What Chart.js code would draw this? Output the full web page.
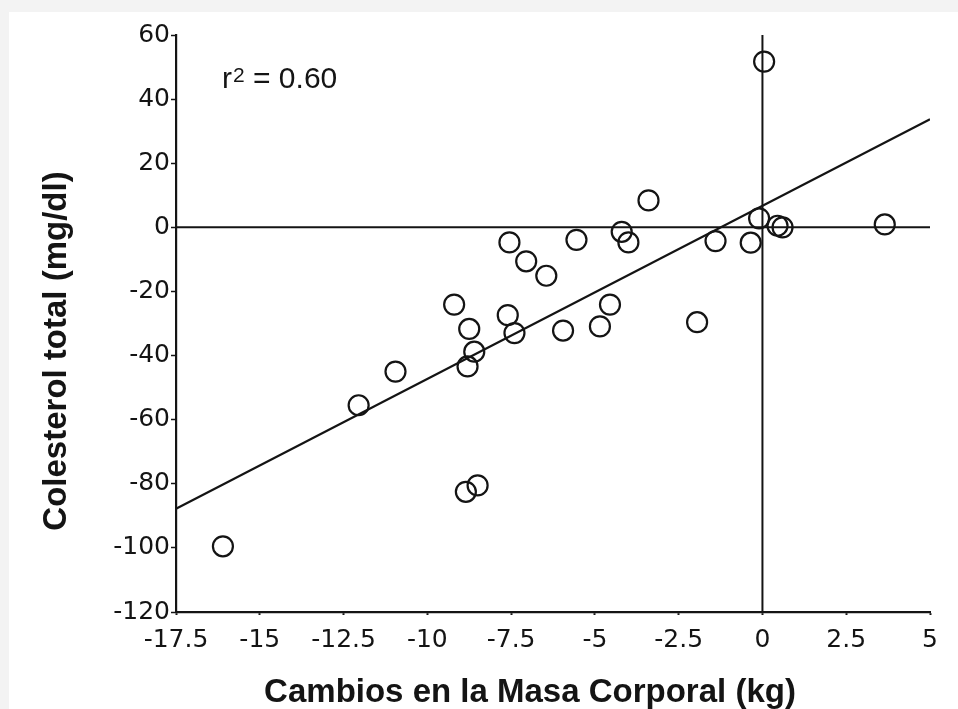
<!DOCTYPE html>
<html>
<head>
<meta charset="utf-8">
<script src="https://cdn.jsdelivr.net/npm/chart.js@4.4.1/dist/chart.umd.min.js"></script>
<style>
  html, body { margin: 0; padding: 0; background: #f3f3f3; }
  canvas { display: block; }
</style>
</head>
<body>
<canvas id="chol" width="958" height="709"></canvas>
<script>
// Cambios en la masa corporal (kg) vs colesterol total (mg/dl)
const massChange = [-16.1, -12.05, -10.95, -9.2, -8.75, -8.6, -8.8, -8.85, -8.5,
  -7.55, -7.05, -6.45, -7.6, -7.4, -5.95, -5.55, -4.85, -4.55, -4.2, -4.0, -3.4,
  -1.95, -1.4, -0.35, -0.1, 0.45, 0.6, 3.65, 0.05];
const cholChange = [-99.5, -55.5, -45, -24.1, -31.7, -38.8, -43.4, -82.5, -80.5,
  -4.7, -10.6, -15.1, -27.4, -33, -32.2, -3.9, -30.9, -24.1, -1.4, -4.7, 8.4,
  -29.6, -4.3, -4.8, 2.8, 0.5, 0, 0.9, 51.7];

// recta de regresion (extremos)
const fitX = [-17.5, 5];
const fitY = [-87.8, 33.7];

const xTickValues = [-17.5, -15, -12.5, -10, -7.5, -5, -2.5, 0, 2.5, 5];
const xTickLabels = ['-17.5', '-15', '-12.5', '-10', '-7.5', '-5', '-2.5', '0', '2.5', '5'];
const yTickValues = [-120, -100, -80, -60, -40, -20, 0, 20, 40, 60];
const yTickLabels = ['-120', '-100', '-80', '-60', '-40', '-20', '0', '20', '40', '60'];

const xTitle = 'Cambios en la Masa Corporal (kg)';
const yTitle = 'Colesterol total (mg/dl)';
const rLabel = ['r', '2', ' = 0.60'];

const ink = '#141414';

const points = massChange.map((x, i) => ({ x: x, y: cholChange[i] }));
const fitLine = fitX.map((x, i) => ({ x: x, y: fitY[i] }));
const zeroH = [{ x: xTickValues[0], y: 0 }, { x: xTickValues[xTickValues.length - 1], y: 0 }];
const zeroV = [{ x: 0, y: yTickValues[yTickValues.length - 1] }, { x: 0, y: yTickValues[0] }];

// fondo gris con panel blanco + textos
const paperPlugin = {
  id: 'paper',
  beforeDraw(chart) {
    const c = chart.ctx;
    c.save();
    c.fillStyle = '#f3f3f3';
    c.fillRect(0, 0, chart.width, chart.height);
    c.fillStyle = '#ffffff';
    c.fillRect(9, 12, chart.width - 9, chart.height - 12);
    c.restore();
  },
  afterDraw(chart) {
    const c = chart.ctx;
    c.save();
    c.fillStyle = ink;
    c.textBaseline = 'alphabetic';

    c.font = 'bold 33px "Liberation Sans", Arial, sans-serif';
    c.textAlign = 'center';
    c.fillText(xTitle, 530, 702);

    c.translate(66, 351);
    c.rotate(-Math.PI / 2);
    c.fillText(yTitle, 0, 0);
    c.restore();

    c.save();
    c.fillStyle = ink;
    c.textAlign = 'left';
    c.font = '30px "Liberation Sans", Arial, sans-serif';
    let x = 222;
    c.fillText(rLabel[0], x, 88);
    x += c.measureText(rLabel[0]).width + 1;
    c.font = '21px "Liberation Sans", Arial, sans-serif';
    c.fillText(rLabel[1], x, 82);
    x += c.measureText(rLabel[1]).width;
    c.font = '30px "Liberation Sans", Arial, sans-serif';
    c.fillText(rLabel[2], x, 88);
    c.restore();
  }
};

const ctx = document.getElementById('chol');
const cholChart = new Chart(ctx, {
  type: 'scatter',
  data: {
    datasets: [
      {
        data: zeroH, showLine: true, borderColor: ink, borderWidth: 2,
        pointRadius: 0, order: 3
      },
      {
        data: zeroV, showLine: true, borderColor: ink, borderWidth: 2,
        pointRadius: 0, order: 3
      },
      {
        data: fitLine, showLine: true, borderColor: ink, borderWidth: 2.2,
        pointRadius: 0, order: 2
      },
      {
        data: points,
        pointStyle: 'circle',
        pointRadius: 10,
        pointBorderWidth: 2.2,
        borderColor: ink,
        backgroundColor: 'rgba(0,0,0,0)',
        order: 1
      }
    ]
  },
  options: {
    responsive: false,
    animation: false,
    devicePixelRatio: 1,
    layout: { padding: { left: 0, right: 28, top: 35, bottom: 0 } },
    plugins: {
      legend: { display: false },
      tooltip: { enabled: false }
    },
    scales: {
      x: {
        type: 'linear',
        min: -17.5,
        max: 5,
        afterBuildTicks: s => { s.ticks = xTickValues.map(v => ({ value: v })); },
        afterFit: s => { s.height = 97; },
        border: { display: true, color: ink, width: 2.2 },
        grid: { drawOnChartArea: false, drawTicks: true, tickLength: 3, tickColor: ink, tickWidth: 2 },
        ticks: {
          color: ink,
          padding: 10,
          maxRotation: 0,
          autoSkip: false,
          font: { family: '"DejaVu Sans", sans-serif', size: 25 },
          callback: (v, i) => xTickLabels[i]
        }
      },
      y: {
        type: 'linear',
        min: -120,
        max: 60,
        afterBuildTicks: s => { s.ticks = yTickValues.map(v => ({ value: v })); },
        afterFit: s => { s.width = 176; },
        border: { display: true, color: ink, width: 2.2 },
        grid: { drawOnChartArea: false, drawTicks: true, tickLength: 5, tickColor: ink, tickWidth: 1.5 },
        ticks: {
          color: ink,
          padding: 1,
          autoSkip: false,
          font: { family: '"DejaVu Sans", sans-serif', size: 25 },
          callback: (v, i) => yTickLabels[i]
        }
      }
    }
  },
  plugins: [paperPlugin]
});
</script>
</body>
</html>
